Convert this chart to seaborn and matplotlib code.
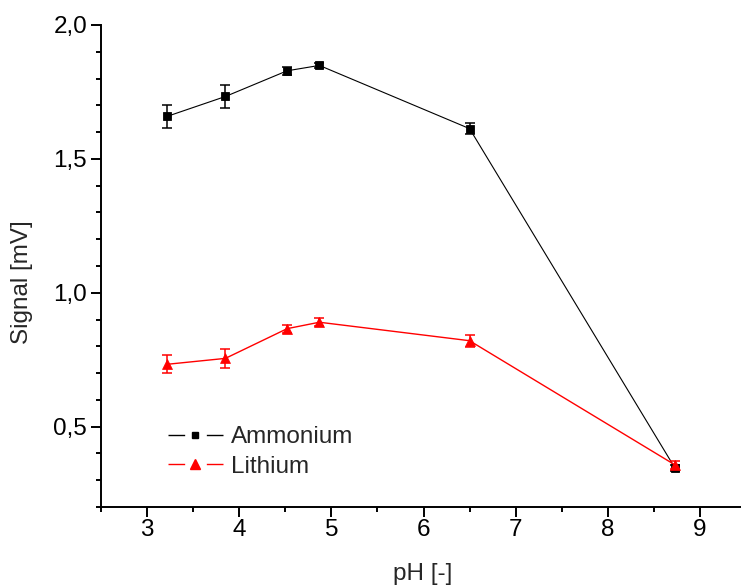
import matplotlib
matplotlib.use("Agg")
import matplotlib.pyplot as plt
from matplotlib.lines import Line2D
from matplotlib.ticker import MultipleLocator, FuncFormatter
import seaborn as sns
import pandas as pd

# ---- data ----
ph = [3.22, 3.85, 4.52, 4.87, 6.50, 8.73]
ammonium = [1.659, 1.733, 1.829, 1.849, 1.613, 0.345]
ammonium_err = [0.042, 0.042, 0.015, 0.010, 0.020, 0.010]
lithium = [0.733, 0.755, 0.866, 0.890, 0.821, 0.357]
lithium_err = [0.033, 0.035, 0.015, 0.015, 0.022, 0.015]
series_names = ["Ammonium", "Lithium"]
x_label = "pH [-]"
y_label = "Signal [mV]"

sns.set_style("ticks")
plt.rcParams["font.family"] = ["Liberation Sans", "DejaVu Sans"]
FS = 17.5

fig = plt.figure(figsize=(7.41, 5.86), dpi=100)
ax = fig.add_axes([101 / 741, 79 / 586, 645 / 741, 482 / 586])

df_a = pd.DataFrame({"pH": ph, "Signal": ammonium})
df_l = pd.DataFrame({"pH": ph, "Signal": lithium})

sns.lineplot(data=df_a, x="pH", y="Signal", ax=ax, color="black", lw=0.8,
             marker="s", markersize=5.3, markeredgewidth=0.6, markeredgecolor="black",
             zorder=3)
sns.lineplot(data=df_l, x="pH", y="Signal", ax=ax, color="red", lw=1.0,
             marker="^", markersize=7.5, markeredgewidth=0.5, markeredgecolor="red",
             zorder=4)
ax.errorbar(ph, ammonium, yerr=ammonium_err, fmt="none", ecolor="black",
            elinewidth=1.1, capsize=3.3, capthick=1.1, zorder=3)
ax.errorbar(ph, lithium, yerr=lithium_err, fmt="none", ecolor="red",
            elinewidth=1.1, capsize=3.3, capthick=1.1, zorder=4)

ax.set_xlim(2.5, 9.5)
ax.set_ylim(0.2, 2.0)
ax.xaxis.set_major_locator(MultipleLocator(1))
ax.xaxis.set_minor_locator(MultipleLocator(0.5))
ax.yaxis.set_major_locator(MultipleLocator(0.5))
ax.yaxis.set_minor_locator(MultipleLocator(0.1))
ax.yaxis.set_major_formatter(FuncFormatter(lambda v, p: f"{v:.1f}".replace(".", ",")))
ax.xaxis.set_major_formatter(FuncFormatter(lambda v, p: f"{v:g}"))

for s in ["top", "right"]:
    ax.spines[s].set_visible(False)
for s in ["left", "bottom"]:
    ax.spines[s].set_linewidth(1.4)
    ax.spines[s].set_color("black")

ax.tick_params(axis="both", which="major", direction="out", length=7.0, width=1.4,
               color="black", labelsize=FS, labelcolor="black")
ax.tick_params(axis="both", which="minor", direction="out", length=3.5, width=1.4,
               color="black")
ax.tick_params(axis="x", which="major", pad=2)
ax.tick_params(axis="y", which="major", pad=3)

ax.set_xlabel(x_label, fontsize=FS, va="center")
ax.set_ylabel(y_label, fontsize=FS, va="center")
ax.xaxis.set_label_coords((423 - 101) / 645, (507 - 574) / 482)
ax.yaxis.set_label_coords((22 - 101) / 645, (507 - 282) / 482)

handles = [
    Line2D([], [], color="black", lw=1.0, linestyle=(0, (12, 15.6, 12, 0)),
           marker="s", markersize=4.5, markeredgecolor="black"),
    Line2D([], [], color="red", lw=1.0, linestyle=(0, (12, 15.6, 12, 0)),
           marker="^", markersize=6.5, markeredgecolor="red"),
]
ax.legend(handles, series_names, loc="center left",
          bbox_to_anchor=(168 / 741, 1 - 452 / 586), bbox_transform=fig.transFigure,
          frameon=False, fontsize=FS, handlelength=2.26, handletextpad=0.33,
          labelspacing=0.3, borderpad=0, borderaxespad=0)

fig.savefig("out.png", dpi=100)
